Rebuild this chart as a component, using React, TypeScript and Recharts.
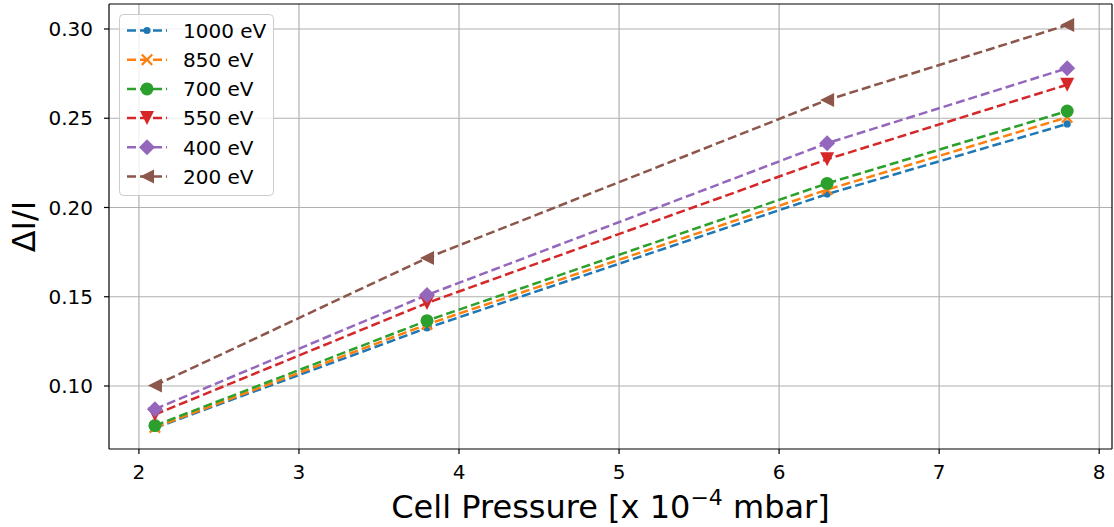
import React from 'react';
import { ComposedChart, Line, XAxis, YAxis, CartesianGrid, Legend, ReferenceLine } from 'recharts';

// Cell pressure (x 1e-4 mbar)
const pressures = [2.1, 3.8, 6.3, 7.8];

// ΔI/I per beam energy
const e1000 = [0.0765, 0.1325, 0.2075, 0.2468];
const e850 = [0.0768, 0.1345, 0.2100, 0.2505];
const e700 = [0.0778, 0.1366, 0.2135, 0.2540];
const e550 = [0.0840, 0.1465, 0.2270, 0.2688];
const e400 = [0.0870, 0.1510, 0.2360, 0.2780];
const e200 = [0.1003, 0.1717, 0.2602, 0.3022];

const xTicks = [2, 3, 4, 5, 6, 7, 8];
const yTicks = [0.1, 0.15, 0.2, 0.25, 0.3];

const X_DOMAIN: [number, number] = [1.813, 8.08];
const Y_DOMAIN: [number, number] = [0.0647, 0.314];

const FONT = '"DejaVu Sans", sans-serif';

type Marker = 'smallCircle' | 'x' | 'circle' | 'triDown' | 'diamond' | 'triLeft';

const series: { key: string; name: string; values: number[]; color: string; marker: Marker }[] = [
  { key: 'e1000', name: '1000 eV', values: e1000, color: '#1f77b4', marker: 'smallCircle' },
  { key: 'e850', name: '850 eV', values: e850, color: '#ff7f0e', marker: 'x' },
  { key: 'e700', name: '700 eV', values: e700, color: '#2ca02c', marker: 'circle' },
  { key: 'e550', name: '550 eV', values: e550, color: '#d62728', marker: 'triDown' },
  { key: 'e400', name: '400 eV', values: e400, color: '#9467bd', marker: 'diamond' },
  { key: 'e200', name: '200 eV', values: e200, color: '#8c564b', marker: 'triLeft' },
];

const data = pressures.map((p, i) => {
  const row: Record<string, number> = { p };
  series.forEach(s => { row[s.key] = s.values[i]; });
  return row;
});

function markerShape(kind: Marker, color: string, cx: number, cy: number, key?: string | number) {
  switch (kind) {
    case 'smallCircle':
      return <circle key={key} cx={cx} cy={cy} r={3.6} fill={color} />;
    case 'circle':
      return <circle key={key} cx={cx} cy={cy} r={6.5} fill={color} />;
    case 'x': {
      const h = 5.2;
      return (
        <path key={key} d={`M${cx - h},${cy - h}L${cx + h},${cy + h}M${cx - h},${cy + h}L${cx + h},${cy - h}`}
          stroke={color} strokeWidth={2.2} fill="none" />
      );
    }
    case 'triDown': {
      const h = 7;
      return <path key={key} d={`M${cx - h},${cy - h}L${cx + h},${cy - h}L${cx},${cy + h}Z`} fill={color} />;
    }
    case 'triLeft': {
      const h = 7;
      return <path key={key} d={`M${cx + h},${cy - h}L${cx + h},${cy + h}L${cx - h},${cy}Z`} fill={color} />;
    }
    case 'diamond': {
      const h = 8;
      return <path key={key} d={`M${cx},${cy - h}L${cx + h},${cy}L${cx},${cy + h}L${cx - h},${cy}Z`} fill={color} />;
    }
  }
}

const LegendBox = () => (
  <svg width={160} height={186} style={{ display: 'block', overflow: 'visible' }}>
    <rect x={0.5} y={0.5} width={154} height={181} rx={4} fill="#fff" fillOpacity={0.8} stroke="#cccccc" strokeWidth={1} />
    {series.map((s, i) => {
      const cy = 16.5 + i * 29.2;
      return (
        <g key={s.key}>
          <line x1={8} x2={48} y1={cy} y2={cy} stroke={s.color} strokeWidth={2.5} strokeDasharray="9 4" />
          {markerShape(s.marker, s.color, 28, cy)}
          <text x={64} y={cy + 7.3} fontSize={20} fontFamily={FONT} fill="#000">{s.name}</text>
        </g>
      );
    })}
  </svg>
);

const XLabel = (props: any) => {
  const vb = props.viewBox || { x: 109, y: 449, width: 1003, height: 30 };
  const cx = vb.x + vb.width / 2;
  return (
    <text x={cx} y={vb.y + 69} textAnchor="middle" fontSize={32} fontFamily={FONT} fill="#000">
      Cell Pressure [x 10<tspan dy={-13} fontSize={22}>−4</tspan><tspan dy={13}> mbar]</tspan>
    </text>
  );
};

const YLabel = (props: any) => {
  const vb = props.viewBox || { x: 49, y: 4, width: 60, height: 445 };
  const cy = vb.y + vb.height / 2;
  const x = 35;
  return (
    <text x={x} y={cy} transform={`rotate(-90, ${x}, ${cy})`} textAnchor="middle" fontSize={32} fontFamily={FONT} fill="#000">
      ΔI/I
    </text>
  );
};

const tickStyle = { fontSize: 20, fill: '#000', fontFamily: FONT };

export default function App() {
  return (
    <div style={{ position: 'absolute', left: 0, top: 0, width: 1114, height: 527, background: '#fff' }}>
      <ComposedChart width={1114} height={527} data={data} margin={{ top: 4, right: 2, bottom: 48, left: 49 }}>
        <CartesianGrid stroke="#b0b0b0" strokeWidth={1.2} horizontalValues={yTicks} verticalValues={xTicks} />
        <XAxis
          dataKey="p"
          type="number"
          domain={X_DOMAIN}
          ticks={xTicks}
          allowDataOverflow
          height={30}
          tick={tickStyle}
          tickSize={5}
          tickMargin={11}
          axisLine={{ stroke: '#000', strokeWidth: 1.2 }}
          tickLine={{ stroke: '#000', strokeWidth: 1.2 }}
          label={{ content: (p: any) => <XLabel {...p} /> }}
        />
        <YAxis
          type="number"
          domain={Y_DOMAIN}
          ticks={yTicks}
          allowDataOverflow
          width={60}
          tick={tickStyle}
          tickFormatter={(v: number) => v.toFixed(2)}
          tickSize={5}
          tickMargin={11}
          axisLine={{ stroke: '#000', strokeWidth: 1.2 }}
          tickLine={{ stroke: '#000', strokeWidth: 1.2 }}
          label={{ content: (p: any) => <YLabel {...p} /> }}
        />
        {/* top and right spines */}
        <ReferenceLine y={Y_DOMAIN[1]} stroke="#000" strokeWidth={1.2} />
        <ReferenceLine x={X_DOMAIN[1]} stroke="#000" strokeWidth={1.2} />
        {series.map(s => (
          <Line
            key={s.key}
            dataKey={s.key}
            name={s.name}
            type="linear"
            stroke={s.color}
            strokeWidth={2.5}
            strokeDasharray="9 4"
            isAnimationActive={false}
            dot={(props: any) => markerShape(s.marker, s.color, props.cx, props.cy, `${s.key}-${props.index}`)}
            activeDot={false}
          />
        ))}
        <Legend
          layout="horizontal"
          align="center"
          verticalAlign="middle"
          content={() => <LegendBox />}
          wrapperStyle={{ position: 'absolute', left: 119, top: 14, width: 160, height: 186 }}
        />
      </ComposedChart>
    </div>
  );
}
